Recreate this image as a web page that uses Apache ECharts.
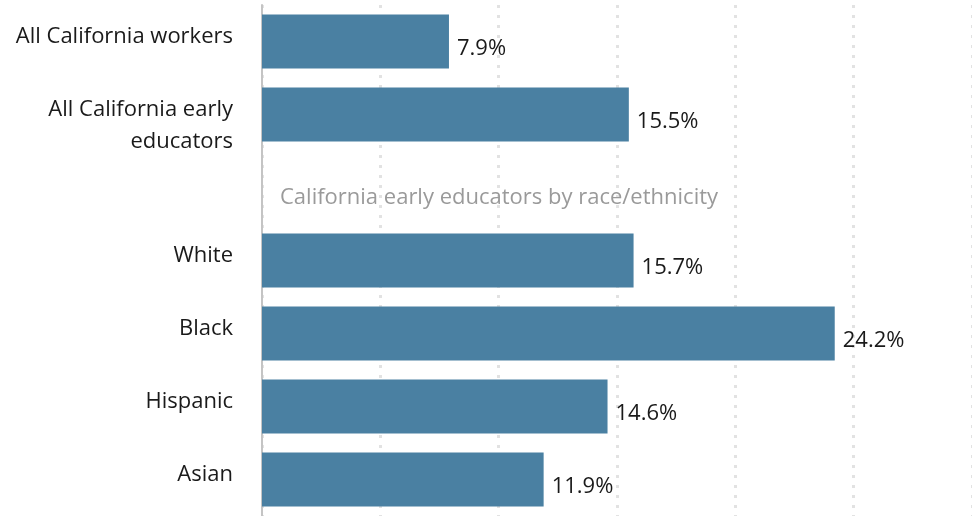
<!DOCTYPE html>
<html>
<head>
<meta charset="utf-8">
<style>html,body{margin:0;padding:0;background:#fff}#c{width:972px;height:516px}</style>
<script src="https://cdn.jsdelivr.net/npm/echarts@6/dist/echarts.min.js"></script>
</head>
<body>
<div id="c"></div>
<script>
const categories = ['All California workers', 'All California early\neducators', '', 'White', 'Black', 'Hispanic', 'Asian'];
const values = [7.9, 15.5, null, 15.7, 24.2, 14.6, 11.9];
const sectionLabel = 'California early educators by race/ethnicity';

const FONT = '"Open Sans"';
const chart = echarts.init(document.getElementById('c'));
const data = values.map(v => v === null ? {
  value: 0,
  itemStyle: {color: 'rgba(0,0,0,0)'},
  label: {formatter: sectionLabel, color: '#9a9a9a', distance: 18, offset: [0, 10]}
} : v);

chart.setOption({
  animation: false,
  grid: {left: 262, top: 5, width: 714, height: 514, containLabel: false},
  xAxis: {
    type: 'value', min: 0, max: 30, interval: 5,
    axisLine: {show: false}, axisTick: {show: false}, axisLabel: {show: false},
    splitLine: {show: true, lineStyle: {color: '#e2e2e2', width: 3, type: [3, 7]}}
  },
  yAxis: {
    type: 'category', inverse: true, data: categories,
    axisLine: {show: true, lineStyle: {color: '#c4c4c4', width: 2}},
    axisTick: {show: false},
    axisLabel: {
      color: '#1a1a1a', fontSize: 22, fontFamily: FONT, margin: 29,
      align: 'right', verticalAlign: 'top', lineHeight: 32, padding: [-21, 0, 0, 0]
    }
  },
  series: [{
    type: 'bar', data: data, barWidth: 54,
    itemStyle: {color: '#4a80a2'},
    label: {
      show: true, position: 'right', distance: 8, offset: [0, 7],
      color: '#1a1a1a', fontSize: 22, fontFamily: FONT,
      formatter: p => p.value + '%'
    }
  }]
});
</script>
</body>
</html>
